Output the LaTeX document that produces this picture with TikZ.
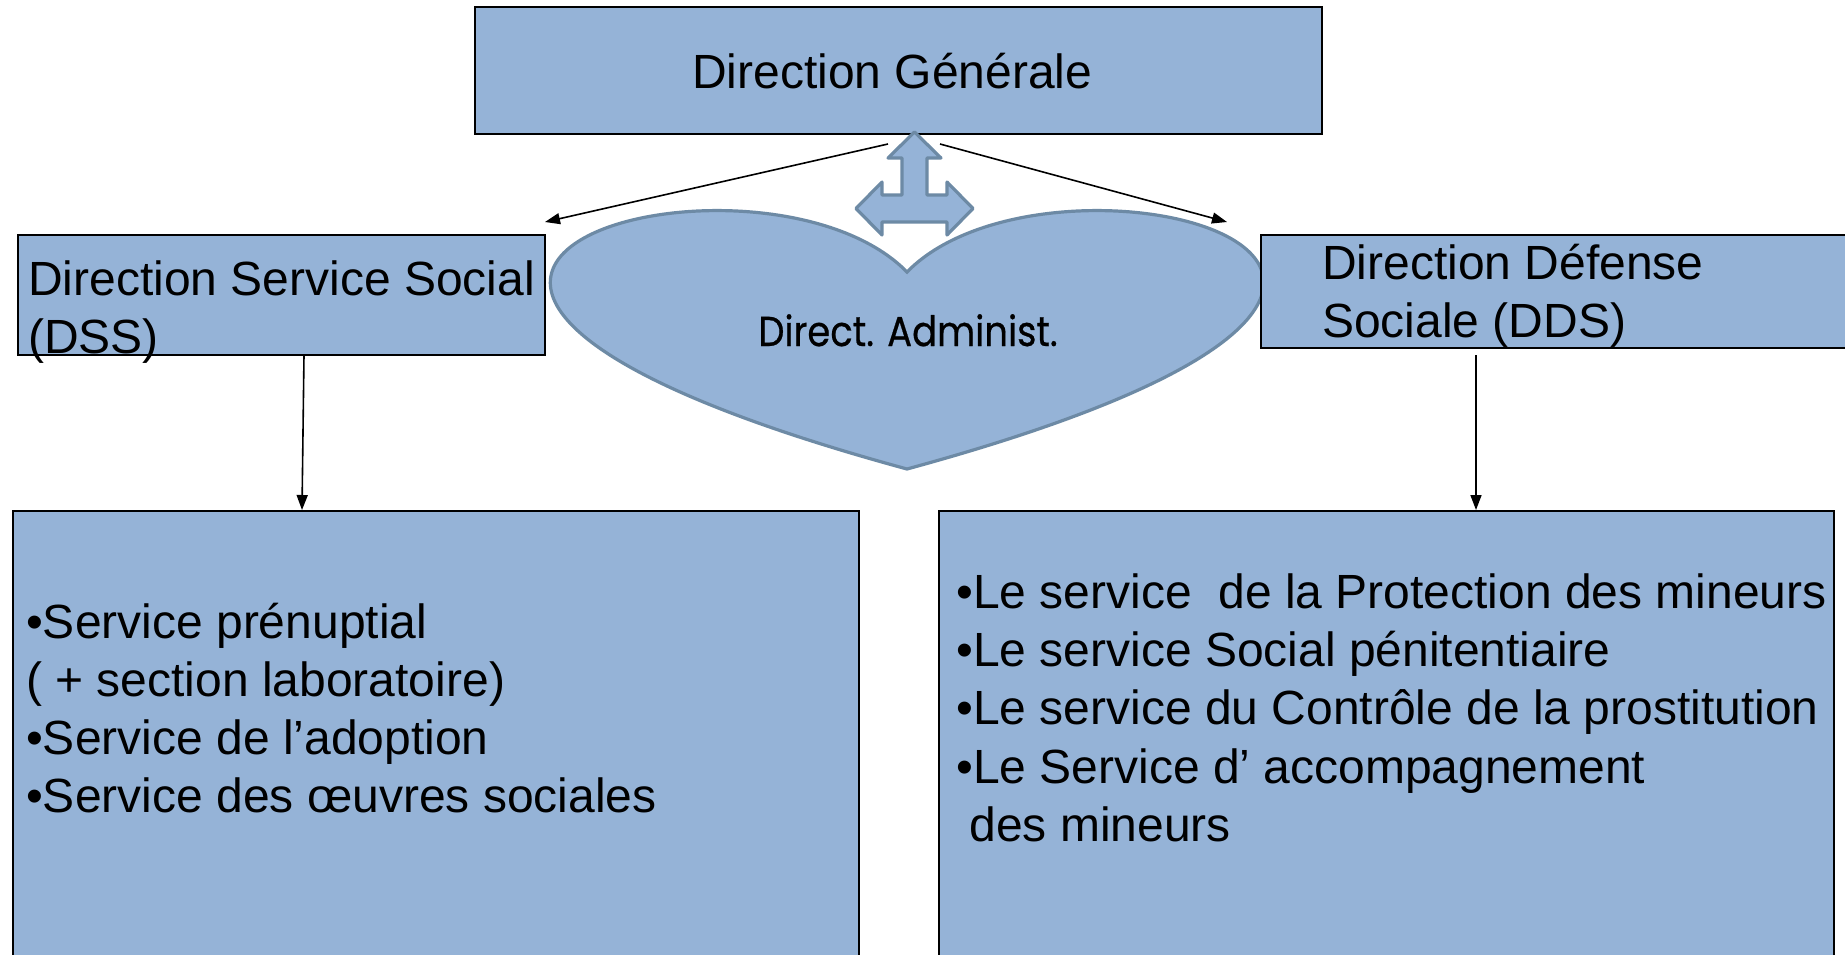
\documentclass[tikz,border=0pt]{standalone}
\usepackage{fontspec}
\usepackage{graphicx}
\setmainfont{Liberation Sans}
\newfontfamily\geofont{Poppins}[FakeBold=0.6]
\usetikzlibrary{arrows.meta}
\definecolor{boxfill}{HTML}{95B3D7}
\definecolor{shapeedge}{HTML}{6D8AA5}
\newcommand\bigtext{\fontsize{48}{58.2}\selectfont}
\begin{document}
\begin{tikzpicture}[x=1pt,y=-1pt,
  box/.style={draw=black, line width=2pt, fill=boxfill, inner sep=0pt, anchor=north west},
  txt/.style={anchor=base west, inner sep=0pt},
  conn/.style={line width=1.6pt, -{Triangle[length=15pt,width=11pt]}},
  shapeline/.style={draw=shapeedge, line width=3.2pt, fill=boxfill}]
\useasboundingbox (0,0) rectangle (1845,954);
\clip (0,0) rectangle (1845,954);
\fill[white] (0,0) rectangle (1845,954);

% heart
\draw[shapeline] (907,272) .. controls (1054.5,121) and (1630,272) .. (907,469)
  .. controls (184,272) and (759.5,121) .. (907,272) -- cycle;
\node[txt, font=\geofont\fontsize{37}{44}\selectfont, anchor=base] (da) at (908,346) {\scalebox{1}[1.13]{Direct. Administ.}};

% boxes
\node[box, minimum width=847pt, minimum height=127pt] (dg) at (474,6) {};
\node[box, minimum width=527pt, minimum height=120pt] (dss) at (16.5,233.5) {};
\node[box, minimum width=700pt, minimum height=113pt] (dds) at (1260,233.5) {};
\node[box, minimum width=846pt, minimum height=500pt] (bl) at (12,510) {};
\node[box, minimum width=895pt, minimum height=500pt] (br) at (938,510) {};

% texts
\node[txt] (dgt) at (692,88) {\bigtext Direction Générale};
\node[txt] (dsst) at (28,295) {\parbox[t]{700pt}{\bigtext\raggedright Direction Service Social\\(DSS)}};
\node[txt] (ddst) at (1322,279) {\parbox[t]{700pt}{\bigtext\raggedright Direction Défense\\Sociale (DDS)}};
\node[txt] (blt) at (26,638) {\parbox[t]{820pt}{\bigtext\raggedright •Service prénuptial\\( + section laboratoire)\\•Service de l’adoption\\•Service des œuvres sociales}};
\node[txt] (brt) at (956,608.5) {\parbox[t]{890pt}{\bigtext\raggedright •Le service\ \ de la Protection des mineurs\\•Le service Social pénitentiaire\\•Le service du Contrôle de la prostitution\\•Le Service d’ accompagnement\\\hspace*{13.3pt}des mineurs}};

% three-way arrow
\draw[shapeline, line join=round] (914.5,132) -- (941,158) -- (927,158) -- (927,195) -- (947,195) -- (947,182)
  -- (973,208.5) -- (947,235) -- (947,222) -- (882,222) -- (882,235) -- (856,208.5) -- (882,182)
  -- (882,195) -- (902,195) -- (902,158) -- (888,158) -- cycle;

% connectors
\coordinate (aL0) at (888,144);
\coordinate (aL1) at (545,222);
\coordinate (aR0) at (940,144);
\coordinate (aR1) at (1227,222);
\coordinate (vL0) at (304,355);
\coordinate (vL1) at (302,510);
\coordinate (vR0) at (1476,355);
\coordinate (vR1) at (1476,510);
\draw[conn] (aL0) -- (aL1);
\draw[conn] (aR0) -- (aR1);
\draw[conn] (vL0) -- (vL1);
\draw[conn] (vR0) -- (vR1);
\end{tikzpicture}
\end{document}
